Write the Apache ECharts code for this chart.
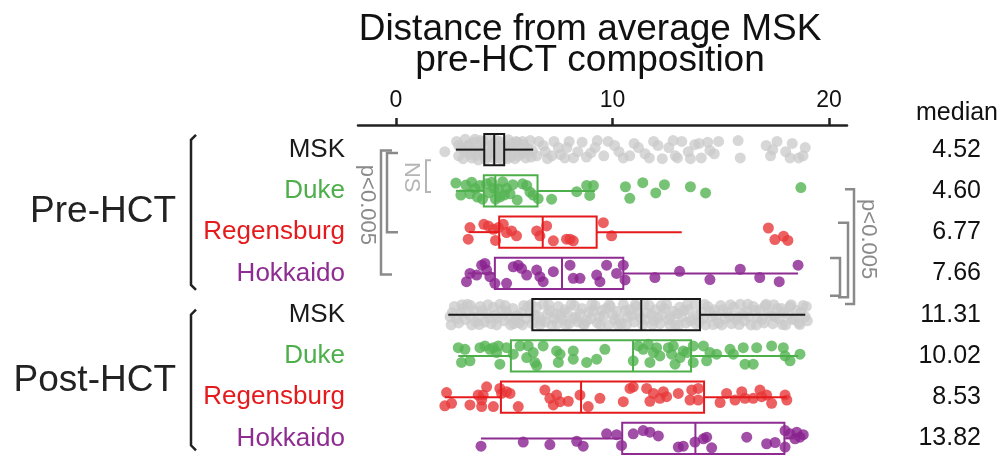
<!DOCTYPE html>
<html>
<head>
<meta charset="utf-8">
<script src="https://cdn.jsdelivr.net/npm/echarts@6/dist/echarts.min.js"></script>
<style>
  html, body { margin: 0; padding: 0; background: #fff; }
  #chart { width: 1003px; height: 459px; }
</style>
</head>
<body>
<div id="chart"></div>
<script>
  const groups = ['Pre-HCT', 'Post-HCT']
  const sites = ['MSK', 'Duke', 'Regensburg', 'Hokkaido']
  const siteColors = ['#1a1a1a', '#4daf4a', '#e41a1c', '#8e2c91']
  const pointColors = ['#c9c9c9', '#55b452', '#e8383a', '#8a2290']
  const xTicks = [0, 10, 20]
  const medians = ['4.52', '4.60', '6.77', '7.66', '11.31', '10.02', '8.53', '13.82']
  // min, q1, median, q3, max for each row (pre MSK ... post Hokkaido)
  const boxStats = [
    [2.77, 4.08, 4.54, 5.00, 6.34],
    [2.77, 4.06, 4.59, 6.54, 9.19],
    [3.37, 4.77, 6.78, 9.27, 13.2],
    [3.33, 4.57, 7.67, 10.5, 18.57],
    [2.42, 6.30, 11.33, 14.04, 18.9],
    [2.88, 5.31, 10.95, 13.63, 18.57],
    [2.26, 4.85, 8.55, 14.23, 18.05],
    [3.93, 10.45, 13.83, 17.94, 18.6]
  ]

  // points: [distance, vertical jitter in rows]
  const preMSK = [
    [2.26, 0.05], [2.8, -0.2], [2.9, 0.15], [3.0, -0.05], [3.1, 0.22], [3.2, -0.25], [3.3, 0.08], [3.35, -0.1],
    [3.4, -0.12], [3.5, 0.2], [3.55, 0.0], [3.6, -0.18], [3.7, 0.02], [3.75, 0.14], [3.8, 0.25], [3.9, -0.22],
    [3.95, 0.05], [4.0, 0.1], [4.1, -0.08], [4.15, 0.24], [4.2, 0.18], [4.3, -0.25], [4.35, 0.1], [4.4, 0.05],
    [4.5, -0.15], [4.55, 0.22], [4.6, -0.02], [4.65, -0.22], [4.7, 0.12], [4.8, -0.2], [4.85, 0.05], [4.9, 0.25],
    [5.0, -0.1], [5.05, 0.15], [5.1, 0.08], [5.2, -0.24], [5.25, 0.0], [5.3, 0.18], [5.4, -0.05], [5.5, 0.22],
    [5.55, -0.2], [5.6, -0.18], [5.7, 0.05], [5.8, 0.1], [5.9, -0.12], [6.0, 0.2], [6.1, -0.02], [6.2, -0.22],
    [6.3, 0.02], [6.5, 0.15], [6.8, -0.1], [7.0, 0.22], [7.3, -0.2], [7.6, 0.12], [7.9, -0.05], [8.2, 0.2],
    [8.6, -0.18], [9.0, 0.08], [9.3, -0.22], [9.6, 0.15], [10.1, -0.1], [10.5, 0.2], [11.0, -0.15], [11.5, 0.1],
    [11.9, -0.2], [12.3, 0.22], [12.6, -0.05], [12.9, 0.15], [13.2, -0.2], [13.5, 0.05], [13.8, -0.12], [14.1, 0.2],
    [14.4, -0.18], [14.7, 0.1], [15.8, -0.22], [15.9, 0.2], [17.1, -0.1], [17.3, 0.15], [17.6, -0.2], [18.0, 0.05],
    [18.3, -0.15], [18.6, 0.2], [18.9, -0.05],
    [2.9, -0.1], [3.15, 0.0], [3.45, 0.12], [3.65, -0.25], [3.85, 0.0], [4.05, -0.2], [4.25, 0.12], [4.45, -0.05],
    [4.75, 0.2], [4.95, -0.1], [5.15, 0.22], [5.35, -0.15], [5.65, 0.15], [5.85, -0.2], [6.05, 0.05], [6.25, 0.18],
    [6.6, -0.2], [6.9, 0.05], [7.2, 0.15], [7.5, -0.05], [7.8, 0.2], [8.0, -0.2], [8.4, 0.05], [8.8, 0.18],
    [9.2, -0.05], [9.8, -0.2], [10.3, 0.05], [10.8, 0.15], [11.2, -0.05], [11.7, 0.2], [12.1, -0.1], [12.8, -0.22],
    [13.0, 0.2], [13.6, 0.22], [14.0, -0.15], [14.5, 0.02], [14.9, -0.2], [17.4, 0.0], [18.2, 0.2], [18.8, 0.15]
  ]
  const preDuke = [
    [2.77, -0.19], [3.0, 0.1], [3.23, -0.14], [3.42, 0.07], [3.5, -0.21], [3.65, -0.06], [3.76, 0.15], [3.88, -0.13],
    [4.0, 0.2], [4.19, -0.17], [4.3, 0.05], [4.42, -0.21], [4.53, -0.06], [4.6, 0.2], [4.73, -0.05], [4.8, 0.15],
    [4.93, -0.22], [5.0, 0.1], [5.11, -0.06], [5.27, 0.07], [5.4, -0.15], [5.6, 0.22], [5.85, -0.17], [6.04, -0.13],
    [6.19, 0.03], [6.34, 0.1], [6.57, 0.19], [7.19, 0.2], [8.35, 0.02], [8.81, -0.13], [9.12, -0.13], [8.95, 0.11],
    [10.6, -0.1], [10.8, 0.18], [11.4, -0.2], [12.0, 0.05], [12.4, -0.15], [13.6, -0.1], [14.3, 0.05], [18.7, -0.08]
  ]
  const preRegensburg = [
    [3.34, 0.17], [3.42, -0.11], [4.06, -0.19], [4.27, -0.15], [4.5, -0.07], [4.6, 0.2], [4.73, -0.11], [4.96, -0.19],
    [5.11, 0.01], [5.34, -0.03], [5.57, 0.09], [6.5, -0.03], [6.65, 0.09], [6.96, -0.15], [7.27, 0.21], [7.88, 0.17],
    [8.04, 0.17], [8.19, 0.21], [9.58, -0.23], [9.96, 0.09], [17.2, -0.1], [17.5, 0.18], [17.9, 0.1], [18.1, 0.2]
  ]
  const preHokkaido = [
    [3.26, 0.2], [3.42, 0], [3.73, 0.04], [3.96, -0.2], [4.11, -0.24], [4.19, -0.08], [4.34, 0.08], [4.57, 0.24],
    [5.11, 0.24], [5.42, -0.16], [5.65, -0.2], [5.8, -0.12], [6.04, 0.04], [6.5, -0.08], [6.65, 0.08], [6.8, 0.2],
    [7.27, -0.04], [8.04, -0.2], [8.19, 0.12], [8.5, 0.12], [9.27, 0.04], [9.42, 0.2], [9.73, -0.2], [10.19, 0],
    [10.5, -0.2], [10.58, 0.16], [11.96, 0.1], [13.1, -0.05], [14.5, 0.15], [15.9, -0.1], [16.8, 0.1], [17.7, 0.2],
    [18.57, -0.2]
  ]
  const postMSK = [
    [2.5, 0.05], [2.7, -0.2], [2.9, 0.2], [3.0, -0.05], [3.2, 0.12], [3.3, -0.25], [3.5, 0.25], [3.6, -0.1],
    [3.8, 0.05], [3.9, -0.2], [4.1, 0.18], [4.2, -0.02], [4.4, 0.22], [4.5, -0.18], [4.7, 0.08], [4.8, -0.25],
    [5.0, 0.15], [5.1, -0.08], [5.3, 0.25], [5.4, -0.15], [5.6, 0.02], [5.7, 0.2], [5.9, -0.22], [6.0, 0.1],
    [6.2, -0.05], [6.3, 0.22], [6.5, -0.18], [6.6, 0.05], [6.8, -0.25], [6.9, 0.18], [7.1, -0.1], [7.2, 0.25],
    [7.4, -0.02], [7.5, -0.2], [7.7, 0.12], [7.8, -0.12], [8.0, 0.22], [8.1, -0.25], [8.3, 0.05], [8.4, 0.18],
    [8.6, -0.15], [8.7, 0.25], [8.9, -0.05], [9.0, 0.1], [9.2, -0.22], [9.3, 0.2], [9.5, -0.1], [9.6, 0.02],
    [9.8, 0.25], [9.9, -0.2], [10.1, 0.12], [10.2, -0.08], [10.4, 0.22], [10.5, -0.25], [10.7, 0.05], [10.8, -0.12],
    [11.0, 0.18], [11.1, -0.2], [11.3, 0.08], [11.4, 0.25], [11.6, -0.05], [11.7, -0.22], [11.9, 0.15], [12.0, -0.12],
    [12.2, 0.22], [12.3, 0.0], [12.5, -0.25], [12.6, 0.12], [12.8, -0.08], [12.9, 0.25], [13.1, -0.18], [13.2, 0.05],
    [13.4, 0.2], [13.5, -0.12], [13.7, 0.1], [13.8, -0.25], [14.0, 0.18], [14.1, -0.05], [14.3, 0.25], [14.4, -0.2],
    [14.6, 0.05], [14.7, -0.12], [14.9, 0.2], [15.0, -0.22], [15.2, 0.1], [15.3, -0.05], [15.5, 0.22], [15.6, -0.18],
    [15.8, 0.05], [15.9, -0.25], [16.1, 0.15], [16.2, -0.08], [16.4, 0.25], [16.5, -0.2], [16.7, 0.08], [16.8, -0.12],
    [17.0, 0.2], [17.1, -0.25], [17.3, 0.02], [17.4, 0.22], [17.6, -0.15], [17.7, 0.1], [17.9, -0.05], [18.0, 0.25],
    [18.2, -0.2], [18.3, 0.12], [18.5, -0.1], [18.6, 0.2], [18.8, -0.22], [18.9, 0.05],
    [2.6, -0.05], [2.8, 0.1], [3.1, -0.15], [3.4, 0.02], [3.7, 0.18], [4.0, -0.1], [4.3, 0.08], [4.6, 0.0],
    [4.9, -0.1], [5.2, 0.05], [5.5, 0.12], [5.8, -0.05], [6.1, -0.2], [6.4, 0.0], [6.7, 0.15], [7.0, -0.02],
    [7.3, 0.1], [7.6, 0.02], [7.9, -0.05], [8.2, 0.1], [8.5, -0.02], [8.8, 0.15], [9.1, -0.1], [9.4, 0.05],
    [9.7, -0.15], [10.0, 0.0], [10.3, 0.12], [10.6, -0.1], [10.9, 0.02], [11.2, -0.05], [11.5, 0.12], [11.8, 0.0],
    [12.1, 0.08], [12.4, -0.15], [12.7, 0.05], [13.0, -0.02], [13.3, -0.1], [13.6, 0.15], [13.9, 0.0], [14.2, 0.1],
    [14.5, -0.08], [14.8, 0.02], [15.1, -0.12], [15.4, 0.05], [15.7, 0.12], [16.0, -0.02], [16.3, 0.05], [16.6, -0.1],
    [16.9, 0.12], [17.2, -0.05], [17.5, 0.05], [17.8, -0.15], [18.1, 0.0], [18.4, 0.1], [18.7, -0.05], [19.0, 0.15],
    [2.55, 0.25], [3.05, -0.24], [3.45, -0.22], [3.85, 0.24], [4.25, -0.24], [4.65, 0.25], [5.05, -0.22], [5.45, 0.22],
    [5.85, 0.25], [6.25, -0.25], [6.65, 0.24], [7.05, -0.24], [7.45, 0.22], [7.85, 0.24], [8.25, -0.22], [8.65, 0.22],
    [9.05, -0.25], [9.45, 0.25], [9.85, -0.24], [10.25, 0.25], [10.65, 0.24], [11.05, -0.24], [11.45, -0.25], [11.85, 0.24],
    [12.25, -0.22], [12.65, 0.24], [13.05, 0.25], [13.45, -0.24], [13.85, 0.22], [14.25, -0.25], [14.65, 0.24], [15.05, 0.25],
    [15.45, -0.24], [15.85, 0.24], [16.25, -0.25], [16.65, 0.25], [17.05, -0.22], [17.45, -0.24], [17.85, 0.24], [18.25, -0.24],
    [18.65, 0.24], [18.95, -0.2]
  ]
  const postDuke = [
    [2.88, -0.2], [3.19, -0.16], [3.03, 0.16], [3.42, 0.12], [3.88, -0.2], [4.11, -0.24], [4.34, -0.16], [4.5, -0.2],
    [4.73, -0.24], [4.65, -0.08], [4.8, 0.2], [5.11, -0.2], [5.42, -0.04], [5.73, -0.24], [6.11, -0.24], [6.04, 0.04],
    [6.34, -0.08], [6.42, 0.16], [6.5, 0.24], [6.8, -0.24], [7.42, -0.12], [7.58, -0.04], [7.5, 0.16], [8.19, -0.12],
    [8.19, 0.08], [8.81, 0.16], [9.27, 0.08], [9.65, -0.16], [10.96, 0.12], [11.19, -0.24], [11.42, -0.16], [11.65, -0.28],
    [11.73, 0.16], [11.89, -0.08], [12.04, -0.2], [12.19, 0], [12.58, -0.2], [12.73, -0.04], [12.81, -0.24], [12.89, 0.2],
    [13.12, 0.04], [13.27, -0.12], [13.43, -0.08], [13.73, -0.24], [13.73, 0.16], [14.2, -0.24], [14.35, 0.12], [14.5, -0.08],
    [14.81, -0.04], [15.43, -0.16], [15.58, -0.04], [16.04, -0.2], [16.12, 0.2], [16.5, 0.2], [16.66, -0.2], [17.35, -0.24],
    [17.89, -0.2], [17.97, 0], [18.2, 0.12], [18.66, -0.04]
  ]
  const postRegensburg = [
    [2.34, -0.11], [2.57, 0.15], [2.26, 0.21], [3.42, 0.19], [3.8, -0.05], [3.96, 0.07], [4.03, -0.05], [4.19, -0.25],
    [3.96, 0.23], [4.5, 0.23], [4.8, -0.21], [4.88, -0.09], [5.11, -0.13], [5.27, -0.09], [5.65, 0.23], [6.88, -0.17],
    [7.11, 0.03], [7.27, 0.19], [7.42, -0.05], [7.58, 0.11], [7.96, 0.1], [8.5, -0.05], [8.88, 0.23], [9.42, 0.03],
    [10.5, 0.11], [10.81, -0.21], [10.96, -0.25], [11.58, -0.21], [11.73, 0.1], [11.89, -0.09], [12.19, 0.03], [12.35, -0.13],
    [12.5, -0.01], [13.04, -0.09], [13.58, 0.07], [13.66, -0.17], [13.96, 0.07], [13.96, -0.21], [14.97, 0.13], [15.27, -0.09],
    [15.66, 0.07], [15.97, -0.13], [16.12, 0.03], [16.5, 0.03], [16.81, -0.17], [16.89, -0.01], [17.12, -0.05], [17.35, 0.15],
    [17.97, -0.05], [18.05, 0.07]
  ]
  const postHokkaido = [
    [3.93, 0.19], [5.88, 0.09], [7.11, 0.15], [8.35, 0.07], [8.65, 0.19], [9.73, -0.11], [10.19, -0.09], [10.42, 0.17],
    [10.96, -0.11], [11.42, -0.19], [11.73, -0.15], [12.12, -0.06], [13.04, 0.21], [13.27, 0.19], [13.81, 0.09], [14.2, 0.01],
    [14.35, -0.03], [14.58, 0.23], [16.2, -0.03], [17.12, 0.13], [17.51, 0.1], [17.97, 0.21], [17.97, -0.19], [18.2, -0.11],
    [18.43, 0.01], [18.66, -0.03], [18.81, -0.09], [18.51, -0.15]
  ]
  const rowPoints = [preMSK, preDuke, preRegensburg, preHokkaido, postMSK, postDuke, postRegensburg, postHokkaido]
  const rows = groups.flatMap(g => sites.map(s => g + ' ' + s))

  const font = '"Liberation Sans", Arial, sans-serif'
  const chart = echarts.init(document.getElementById('chart'))

  const rich = {}
  siteColors.forEach((c, i) => {
    rich['s' + i] = {color: c, fontSize: 26, fontFamily: font}
  })

  const scatterSeries = rowPoints.map((pts, r) => ({
    type: 'scatter',
    yAxisIndex: 1,
    symbolSize: 11,
    itemStyle: {color: pointColors[r % 4], opacity: r % 4 === 0 ? 0.75 : 0.8},
    data: pts.map(p => [p[0], r + p[1]]),
    z: 2
  }))

  chart.setOption({
    animation: false,
    grid: {left: 358, right: 156, top: 129, bottom: -5},
    xAxis: {
      type: 'value',
      position: 'top',
      offset: 4,
      min: -1.75,
      max: 20.83,
      axisLine: {onZero: false, lineStyle: {color: '#222', width: 2.5}},
      axisTick: {length: 7, lineStyle: {color: '#222', width: 2.5}, customValues: xTicks},
      axisLabel: {fontSize: 23, color: '#111', fontFamily: font, margin: 13, customValues: xTicks},
      splitLine: {show: false}
    },
    yAxis: [
      {
        type: 'category',
        inverse: true,
        data: rows,
        axisLine: {show: false},
        axisTick: {show: false},
        axisLabel: {
          margin: 13,
          fontSize: 26,
          fontFamily: font,
          formatter: (v, i) => `{s${i % 4}|${sites[i % 4]}}`,
          rich: rich
        }
      },
      {type: 'value', show: false, inverse: true, min: -0.5, max: 7.5},
      {
        type: 'category',
        position: 'right',
        inverse: true,
        data: medians,
        axisLine: {show: false},
        axisTick: {show: false},
        axisLabel: {margin: 134, align: 'right', fontSize: 25, color: '#111', fontFamily: font}
      }
    ],
    series: scatterSeries.concat([{
      type: 'custom',
      yAxisIndex: 0,
      z: 5,
      encode: {x: [1, 2, 3, 4, 5], y: 0},
      data: boxStats.map((s, i) => [i].concat(s)),
      renderItem (params, api) {
        const row = api.value(0)
        const y = api.coord([0, row])[1]
        const h = api.size([0, 1])[1] * 0.76
        const px = k => api.coord([api.value(k), row])[0]
        const lo = px(1)
        const q1 = px(2)
        const med = px(3)
        const q3 = px(4)
        const hi = px(5)
        const style = {stroke: siteColors[row % 4], lineWidth: 2, fill: 'none'}
        return {
          type: 'group',
          children: [
            {type: 'line', shape: {x1: lo, y1: y, x2: q1, y2: y}, style},
            {type: 'line', shape: {x1: q3, y1: y, x2: hi, y2: y}, style},
            {type: 'rect', shape: {x: q1, y: y - h / 2, width: q3 - q1, height: h}, style},
            {type: 'line', shape: {x1: med, y1: y - h / 2, x2: med, y2: y + h / 2}, style}
          ]
        }
      }
    }])
  })

  // annotations: brackets and labels placed from row positions
  const rowY = r => chart.convertToPixel({yAxisIndex: 1}, r)
  const bracket = (r1, r2, xv, xEnd, color, width) => ({
    type: 'polyline',
    shape: {points: [[xEnd, rowY(r1)], [xv, rowY(r1)], [xv, rowY(r2)], [xEnd, rowY(r2)]]},
    style: {stroke: color, lineWidth: width, fill: 'none'}
  })
  const groupBracket = (r1, r2) => ({
    type: 'polyline',
    shape: {points: [[196, rowY(r1)], [191, rowY(r1) + 5], [191, rowY(r2) - 5], [196, rowY(r2)]]},
    style: {stroke: '#222', lineWidth: 2.5, fill: 'none'}
  })
  const label = (text, x, y, size, color, align, rotation) => ({
    type: 'text',
    x: x,
    y: y,
    rotation: rotation || 0,
    style: {text: text, fill: color, font: `${size}px ${font}`, align: align || 'center', verticalAlign: 'middle'}
  })

  chart.setOption({
    graphic: [
      label('Distance from average MSK', 590, 30, 37, '#111'),
      label('pre-HCT composition', 590, 61, 37, '#111'),
      label('median', 957, 113, 25, '#111'),
      label(groups[0], 176, rowY(1.5), 37, '#222', 'right'),
      label(groups[1], 176, rowY(5.6), 37, '#222', 'right'),
      groupBracket(-0.36, 3.4),
      groupBracket(3.88, 7.29),
      bracket(0.26, 1.03, 426, 431, '#b5b5b5', 2),
      bracket(0.02, 3.03, 381, 392, '#8a8a8a', 2.5),
      bracket(0.08, 2.0, 387, 398, '#8a8a8a', 2.5),
      label('NS', 411, rowY(0.67), 22, '#b5b5b5', 'center', -Math.PI / 2),
      label('p<0.005', 367, rowY(1.34), 22, '#8a8a8a', 'center', -Math.PI / 2),
      bracket(0.96, 3.74, 854, 845, '#8a8a8a', 2.5),
      bracket(1.77, 3.58, 848, 838, '#8a8a8a', 2.5),
      bracket(2.63, 3.54, 840, 830, '#8a8a8a', 2.5),
      label('p<0.005', 868, rowY(2.17), 22, '#8a8a8a', 'center', -Math.PI / 2)
    ]
  })
</script>
</body>
</html>
